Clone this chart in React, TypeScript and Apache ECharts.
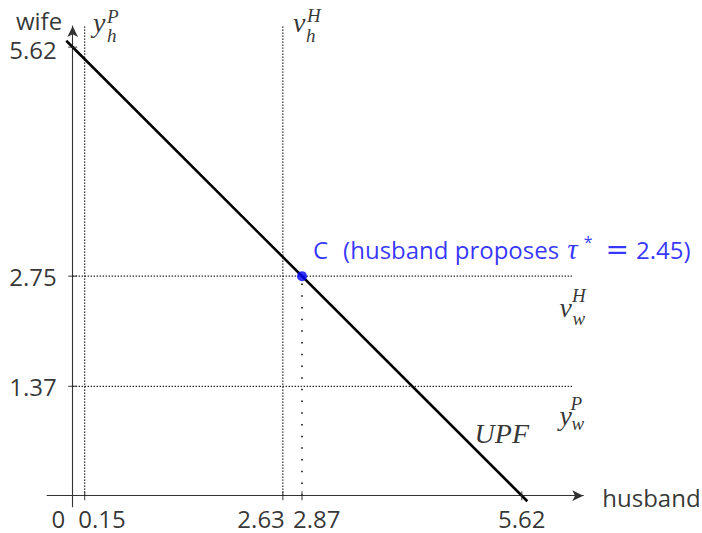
import React, { useEffect, useRef } from "react";
import * as echarts from "echarts";

// ---- data ----
const xTickValues = [0, 0.15, 2.63, 2.87, 5.62];
const xTickLabels = ["0", "0.15", "2.63", "2.87", "5.62"];
const yTickValues = [5.62, 2.75, 1.37];
const yTickLabels = ["5.62", "2.75", "1.37"];
const upfLine = [
  [-0.08, 5.7],
  [5.69, -0.07],
];
const pointC = [2.87, 2.75];
const tauStar = 2.45;
const yhP = 0.15;
const vhH = 2.63;
const vwH = 2.75;
const ywP = 1.37;
const verticalTop = 5.9;
const horizontalEnd = 6.26;
const xRange = [-0.32, 6.39];
const yRange = [-0.14, 5.885];

// ---- layout of the text pieces (pixel offsets from their anchors) ----
const xTickLayout = [
  { dx: -7.5, align: "right" },
  { dx: -6.4, align: "left" },
  { dx: 2, align: "right" },
  { dx: -9, align: "left" },
  { dx: 0, align: "center" },
];
const yTickDy = [2.6, 0.5, 0.5];

type Part = { t: string; dx: number; dy: number; kind: "base" | "sup" | "sub" };
const mathLabels: { anchor: number[]; parts: Part[] }[] = [
  {
    anchor: [yhP, verticalTop],
    parts: [
      { t: "y", dx: 8.3, dy: -2, kind: "base" },
      { t: "P", dx: 22.3, dy: -8.3, kind: "sup" },
      { t: "h", dx: 22.3, dy: 10.7, kind: "sub" },
    ],
  },
  {
    anchor: [vhH, verticalTop],
    parts: [
      { t: "v", dx: 10.2, dy: -2, kind: "base" },
      { t: "H", dx: 24.2, dy: -9.3, kind: "sup" },
      { t: "h", dx: 23.2, dy: 10.7, kind: "sub" },
    ],
  },
  {
    anchor: [horizontalEnd, vwH],
    parts: [
      { t: "v", dx: -13.5, dy: 31.3, kind: "base" },
      { t: "H", dx: -1, dy: 19.3, kind: "sup" },
      { t: "w", dx: -0.5, dy: 42.3, kind: "sub" },
    ],
  },
  {
    anchor: [horizontalEnd, ywP],
    parts: [
      { t: "y", dx: -13.5, dy: 29.2, kind: "base" },
      { t: "P", dx: -2.5, dy: 17.2, kind: "sup" },
      { t: "w", dx: -1.5, dy: 37.2, kind: "sub" },
    ],
  },
];
const upfAnchor = [5.03, 0.78];

const SANS = "'Open Sans', 'DejaVu Sans', sans-serif";
const SERIF = "'Liberation Serif', 'DejaVu Serif', serif";

function textPoint(value: number[], label: any) {
  return {
    value,
    label: {
      show: true,
      position: "inside",
      verticalAlign: "middle",
      ...label,
    },
  };
}

export default function App() {
  const ref = useRef<HTMLDivElement>(null);
  useEffect(() => {
    if (!ref.current) return;
    const chart = echarts.init(ref.current, undefined, { renderer: "svg" });

    const dotted = (data: number[][]) => ({
      type: "line",
      data,
      symbol: "none",
      silent: true,
      clip: false,
      lineStyle: { color: "#000", width: 1.2, type: [1.2, 1.8] },
      z: 2,
    });

    const mathData: any[] = [];
    mathLabels.forEach((m) =>
      m.parts.forEach((p) => {
        const size = p.kind === "base" ? 28 : 19;
        mathData.push(
          textPoint(m.anchor, {
            formatter: p.t,
            offset: [p.dx, p.dy],
            align: "left",
            fontFamily: SERIF,
            fontStyle: "italic",
            fontSize: size,
            lineHeight: size,
            color: "#000",
          })
        );
      })
    );
    mathData.push(
      textPoint(upfAnchor, {
        formatter: "UPF",
        offset: [0, 0],
        align: "left",
        fontFamily: SERIF,
        fontStyle: "italic",
        fontSize: 28,
        lineHeight: 28,
        color: "#000",
      })
    );

    const xLabelData = xTickValues.map((v, i) =>
      textPoint([v, 0], {
        formatter: xTickLabels[i],
        offset: [xTickLayout[i].dx, 23],
        align: xTickLayout[i].align,
        fontFamily: SANS,
        fontSize: 24,
        lineHeight: 24,
        color: "#000",
      })
    );
    const yLabelData = yTickValues.map((v, i) =>
      textPoint([0, v], {
        formatter: yTickLabels[i],
        offset: [-16, yTickDy[i]],
        align: "right",
        fontFamily: SANS,
        fontSize: 24,
        lineHeight: 24,
        color: "#000",
      })
    );
    const axisNameData = [
      textPoint([0, yRange[1]], {
        formatter: "wife",
        offset: [-10.5, -6],
        align: "right",
        fontFamily: SANS,
        fontSize: 24,
        lineHeight: 24,
        color: "#000",
      }),
      textPoint([xRange[1], 0], {
        formatter: "husband",
        offset: [19, 1.5],
        align: "left",
        fontFamily: SANS,
        fontSize: 24,
        lineHeight: 24,
        color: "#000",
      }),
    ];

    const option: any = {
      animation: false,
      grid: { left: 47.1, right: 118.7, top: 26, bottom: 26.2 },
      xAxis: {
        type: "value",
        min: xRange[0],
        max: xRange[1],
        axisLine: {
          onZero: true,
          symbol: ["none", "arrow"],
          symbolSize: [8, 11],
          lineStyle: { color: "#333", width: 1.1 },
        },
        axisTick: { show: false },
        axisLabel: { show: false },
        splitLine: { show: false },
      },
      yAxis: {
        type: "value",
        min: yRange[0],
        max: yRange[1],
        axisLine: {
          onZero: true,
          symbol: ["none", "arrow"],
          symbolSize: [8, 11],
          lineStyle: { color: "#333", width: 1.1 },
        },
        axisTick: { show: false },
        axisLabel: { show: false },
        splitLine: { show: false },
      },
      series: [
        dotted([
          [yhP, 0],
          [yhP, verticalTop],
        ]),
        dotted([
          [vhH, 0],
          [vhH, verticalTop],
        ]),
        dotted([
          [0, vwH],
          [horizontalEnd, vwH],
        ]),
        dotted([
          [0, ywP],
          [horizontalEnd, ywP],
        ]),
        {
          type: "line",
          data: [
            [pointC[0], 0],
            [pointC[0], pointC[1]],
          ],
          symbol: "none",
          silent: true,
          lineStyle: { color: "#000", width: 1.5, type: [1.5, 10.2] },
          z: 2,
        },
        {
          type: "line",
          data: upfLine,
          symbol: "none",
          silent: true,
          clip: false,
          lineStyle: { color: "#000", width: 2.6 },
          z: 3,
        },
        {
          type: "scatter",
          data: xTickValues.filter((v) => v !== 0).map((v) => [v, 0]),
          symbol: "rect",
          symbolSize: [1.2, 9],
          itemStyle: { color: "#333" },
          silent: true,
          z: 3,
        },
        {
          type: "scatter",
          data: yTickValues.map((v) => [0, v]),
          symbol: "rect",
          symbolSize: [9, 1.2],
          itemStyle: { color: "#333" },
          silent: true,
          z: 3,
        },
        {
          type: "scatter",
          data: [
            {
              value: pointC,
              label: {
                show: true,
                position: "inside",
                align: "left",
                verticalAlign: "middle",
                offset: [11, -27],
                formatter: `{c|C}{s|(husband proposes }{t|τ}{sup|*}{eq|=}{s|${tauStar.toFixed(2)})}`,
                rich: {
                  c: { fontFamily: SANS, fontSize: 24, color: "#0000ff", lineHeight: 30, padding: [0, 15, 0, 0] },
                  s: { fontFamily: SANS, fontSize: 24, color: "#0000ff", lineHeight: 30 },
                  t: {
                    fontFamily: SERIF,
                    fontStyle: "italic",
                    fontSize: 29,
                    color: "#0000ff",
                    lineHeight: 30,
                    padding: [0, 6, 0, 2],
                  },
                  sup: { fontFamily: SANS, fontSize: 16, color: "#0000ff", verticalAlign: "top", lineHeight: 16 },
                  eq: {
                    fontFamily: "'DejaVu Sans', sans-serif",
                    fontSize: 28,
                    color: "#0000ff",
                    lineHeight: 30,
                    padding: [0, 7, 0, 13],
                  },
                },
              },
            },
          ],
          symbol: "circle",
          symbolSize: 10,
          itemStyle: { color: "#0000ff" },
          silent: true,
          z: 5,
        },
        {
          type: "scatter",
          data: [...xLabelData, ...yLabelData, ...axisNameData, ...mathData],
          symbolSize: 1,
          itemStyle: { color: "transparent" },
          silent: true,
          clip: false,
          z: 6,
        },
      ],
    };
    chart.setOption(option);
    return () => chart.dispose();
  }, []);
  return (
    <div
      ref={ref}
      style={{ position: "absolute", left: 0, top: 0, width: 702, height: 533, background: "#fff" }}
    />
  );
}
